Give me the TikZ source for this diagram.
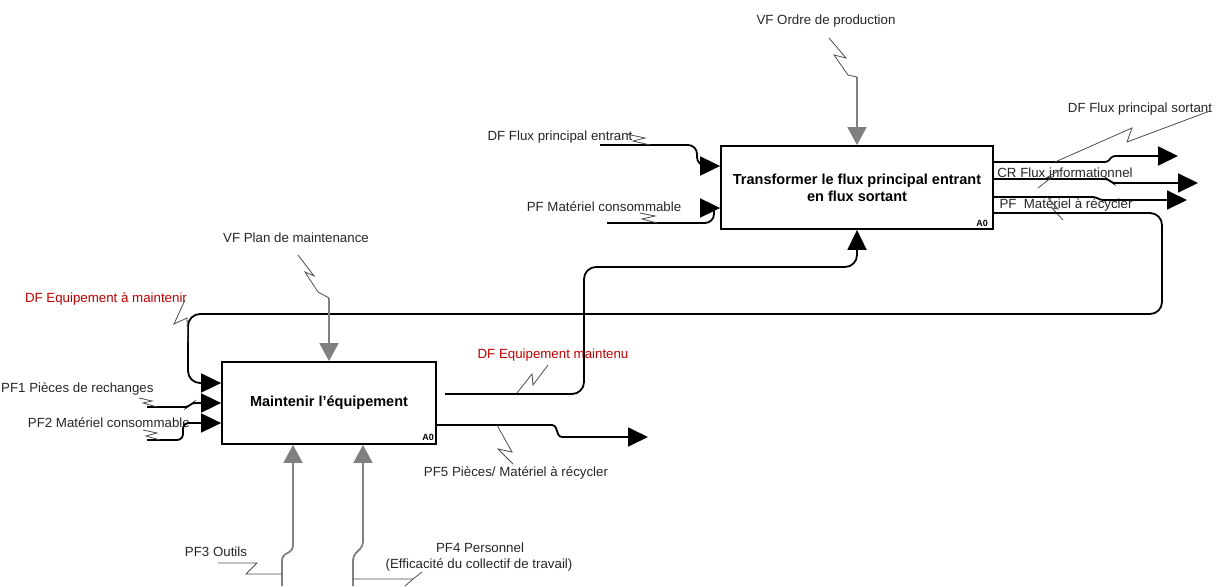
\documentclass[tikz,border=0pt]{standalone}
\usepackage{fontspec}
\setmainfont{Liberation Sans}
\usetikzlibrary{arrows.meta}
\begin{document}
\begin{tikzpicture}[x=1pt,y=-1pt,
  lbl/.style={font=\fontsize{13.3}{16}\selectfont, text=black!85, inner sep=0pt},
  redlbl/.style={lbl, text=red!75!black},
  fbox/.style={draw, line width=1.8pt, fill=white, font=\fontsize{14.5}{17}\selectfont\bfseries, align=center, inner sep=0pt},
  tag/.style={font=\fontsize{9}{10}\selectfont\bfseries, inner sep=0pt},
  flow/.style={line width=1.8pt, rounded corners=9pt},
  step3/.style={line width=1.8pt, rounded corners=3pt},
  ctl/.style={line width=1.8pt, draw=black!50, rounded corners=4pt},
  bolt/.style={line width=0.8pt, draw=black!70},
  tipb/.style={-{Triangle[length=20pt,width=19pt]}},
  tipg/.style={-{Triangle[length=18pt,width=19pt]}},
]
\useasboundingbox (0,0) rectangle (1222,586);

% boxes
\node[fbox, minimum width=272pt, minimum height=83pt] (T) at (857,187.5) {Transformer le flux principal entrant\\en flux sortant};
\node[tag] (Ta) at (982,223) {A0};
\node[fbox, minimum width=214pt, minimum height=82pt] (M) at (329,403) {Maintenir l'équipement};
\node[tag] (Ma) at (428,437) {A0};

% labels
\node[lbl] (lvo) at (826,21) {VF Ordre de production};
\node[lbl] (lfe) at (560,137) {DF Flux principal entrant};
\node[lbl] (lpm) at (604,207) {PF Matériel consommable};
\node[lbl] (lfs) at (1140,109) {DF Flux principal sortant};
\node[lbl] (lcr) at (1065,173) {CR Flux informationnel};
\node[lbl] (lpr) at (1066,205) {PF\ \ Matériel à récycler};
\node[redlbl] (lem) at (106,299) {DF Equipement à maintenir};
\node[lbl] (lvp) at (296,238) {VF Plan de maintenance};
\node[lbl, anchor=west] (lp1) at (1,389) {PF1 Pièces de rechanges};
\node[lbl, anchor=east] (lp2) at (190,423) {PF2 Matériel consommable};
\node[redlbl] (lmt) at (553,355) {DF Equipement maintenu};
\node[lbl] (lp5) at (516,473) {PF5 Pièces/ Matériel à récycler};
\node[lbl] (lp3) at (216,552) {PF3 Outils};
\node[lbl] (lp4) at (480,548) {PF4 Personnel};
\node[lbl] (lp4b) at (479,565) {(Efficacité du collectif de travail)};

% free ends
\coordinate (vo) at (857,77);
\coordinate (fe) at (600,145);
\coordinate (pm) at (607,223);
\coordinate (vp) at (329,298);
\coordinate (mt) at (445,394);
\coordinate (p1) at (147,407);
\coordinate (p2) at (147,440);
\coordinate (p3) at (282,586);
\coordinate (p4) at (353,586);

% top control of T
\draw[ctl, tipg] (vo) -- (T.north);
\draw[bolt] (829,38) -- (846,58) -- (834,55) -- (848,75) -- (vo);

% inputs of T
\draw[flow, tipb] (fe) -- (697,145) -- (697,166) -- (T.west|-0,166);
\draw[bolt] (626,134) -- (645,138) -- (633,141) -- (650,145);
\draw[flow] (pm) -- (714,223) -- (714,211);
\draw[line width=1.8pt, tipb] (700,208) -- (T.west|-0,208);
\draw[bolt] (640,213) -- (655,216) -- (642,219) -- (657,223);

% outputs of T
\draw[step3, tipb] (T.east|-0,162) -- (1108,162) -- (1112,156) -- (1178,156);
\draw[step3, tipb] (T.east|-0,179) -- (1108,179) -- (1112,183) -- (1198,183);
\draw[step3, tipb] (T.east|-0,197) -- (1096,197) -- (1100,200) -- (1187,200);
\draw[bolt] (1210,111) -- (1127,142) -- (1132,128) -- (1055,162);
\draw[bolt] (1038,188) -- (1052,177) -- (1046,178) -- (1060,170);
\draw[bolt] (1047,197) -- (1058,209) -- (1052,208) -- (1063,220);

% loop: equipment to maintain
\draw[flow, rounded corners=12pt, tipb] (T.east|-0,213) -- (1162,213) -- (1162,314) -- (188,314) -- (188,383) -- (M.west|-0,383);
\draw[bolt] (185,300) -- (174,324) -- (187,318) -- (188,343);

% control of M
\draw[ctl, tipg] (vp) -- (M.north);
\draw[bolt] (298,255) -- (314,276) -- (305,272) -- (318,292) -- (vp);

% inputs of M
\draw[step3, tipb] (p1) -- (188,407) -- (192,403) -- (M.west|-0,403);
\draw[bolt] (139,398) -- (152,401) -- (143,403) -- (157,407);
\draw[flow, rounded corners=6pt, tipb] (p2) -- (183,440) -- (183,423) -- (M.west|-0,423);
\draw[bolt] (143,430) -- (157,433) -- (146,436) -- (160,440);

% outputs of M
\draw[flow, rounded corners=12pt, tipb] (mt) -- (584,394) -- (584,267) -- (857,267) -- (T.south);
\draw[bolt] (517,393) -- (532,374) -- (533,385) -- (548,365);
\draw[step3, tipb] (M.east|-0,425) -- (555,425) -- (559,437) -- (648,437);
\draw[bolt] (497,425) -- (512,452) -- (498,449) -- (513,464);

% mechanisms of M
\draw[ctl, tipg] (p3) -- (282,556) -- (293,550) -- (M.south-|293,0);
\draw[bolt] (218,563) -- (257,563) -- (246,574) -- (p3|-0,574);
\draw[ctl, tipg] (p4) -- (353,556) -- (363,546) -- (M.south-|363,0);
\draw[bolt] (p4|-0,579) -- (413,579) -- (422,572);
\draw[bolt] (413,579) -- (405,586);
\end{tikzpicture}
\end{document}
